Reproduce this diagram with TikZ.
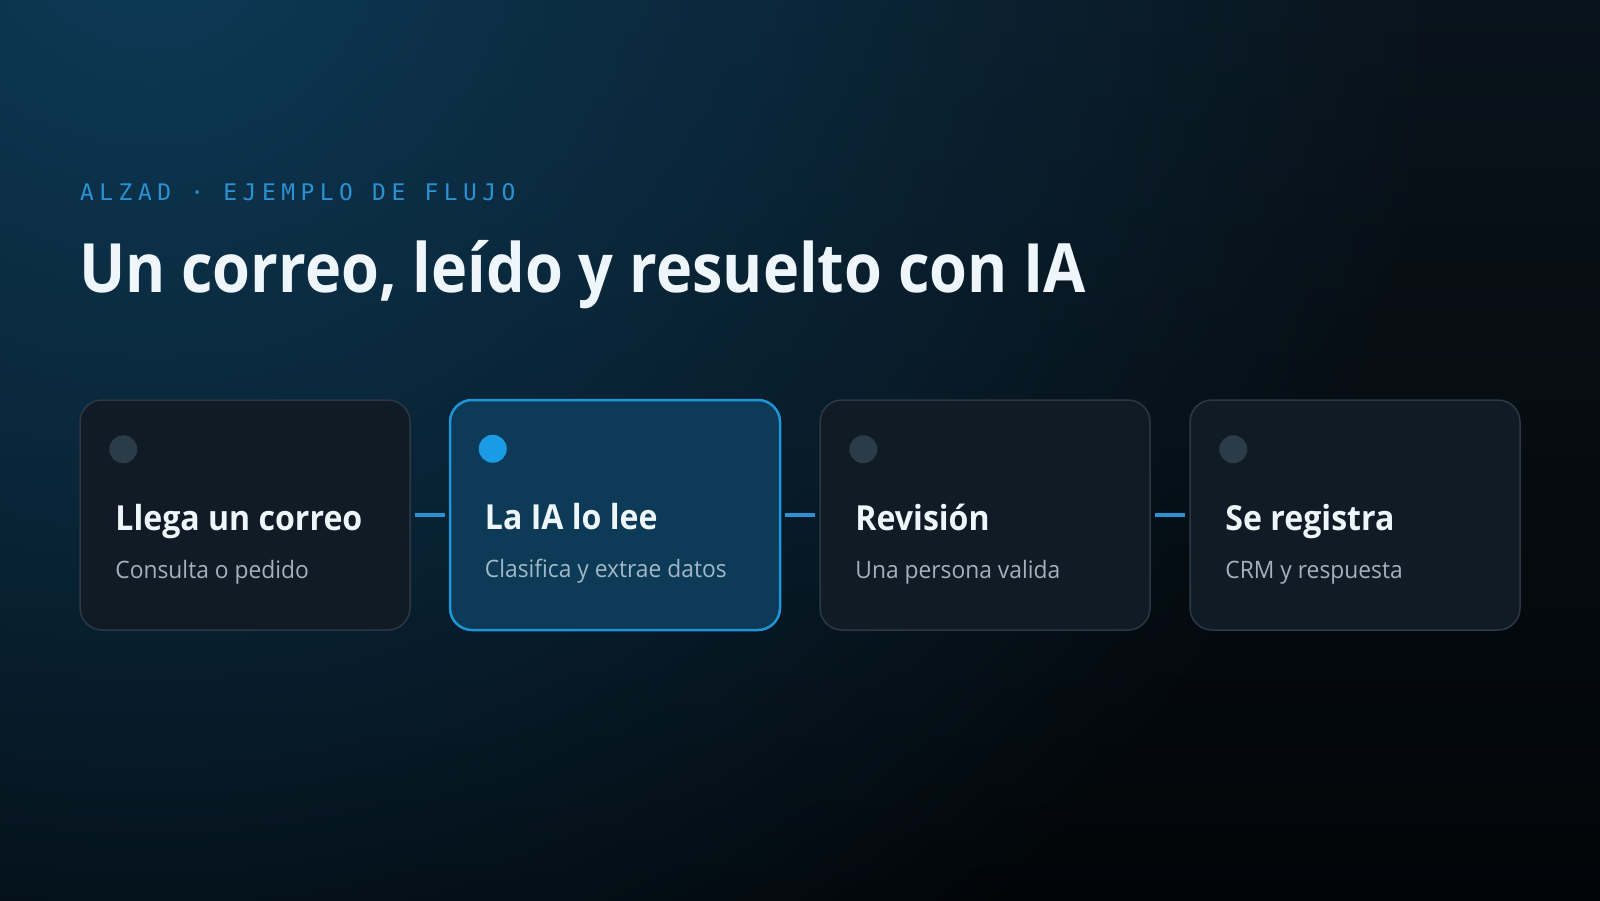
\documentclass[tikz,border=0pt]{standalone}
\usepackage{fontspec}
\setmainfont{Open Sans}
\newfontfamily\monofont[LetterSpace=24]{DejaVu Sans Mono}
\newfontfamily\titlefont[FakeStretch=0.9]{Open Sans}
\newfontfamily\cardtfont[FakeStretch=0.93]{Open Sans}
\newfontfamily\subfont[FakeStretch=0.95]{Open Sans}
\usetikzlibrary{fadings,calc}
\definecolor{bgtop}{HTML}{09131B}
\definecolor{bgbot}{HTML}{020508}
\definecolor{glowc}{HTML}{0D3A57}
\definecolor{cardfill}{HTML}{101B26}
\definecolor{cardline}{HTML}{2C3843}
\definecolor{actfill}{HTML}{0D3A56}
\definecolor{actline}{HTML}{1D95D6}
\definecolor{dotoff}{HTML}{2C3B48}
\definecolor{doton}{HTML}{1A9BE5}
\definecolor{titlec}{HTML}{EEF6FC}
\definecolor{subc}{HTML}{A3B1BC}
\definecolor{subact}{HTML}{A0B8C8}
\definecolor{accent}{HTML}{2C91D2}
\tikzfading[name=glowfade, inner color=transparent!0, outer color=transparent!100]
\tikzset{
  card/.style={draw=cardline, line width=1.5pt, fill=cardfill, rounded corners=22pt,
    minimum width=330pt, minimum height=230pt, inner sep=0pt},
  actcard/.style={card, draw=actline, line width=2.5pt, fill=actfill},
  dotoff/.style={circle, fill=dotoff, minimum size=28pt, inner sep=0pt},
  doton/.style={circle, fill=doton, minimum size=28pt, inner sep=0pt},
  ctitle/.style={anchor=base west, inner sep=0pt, text=titlec, font=\cardtfont\fontsize{34.5}{40}\selectfont\bfseries},
  csub/.style={anchor=base west, inner sep=0pt, text=subc, font=\subfont\fontsize{24}{28}\selectfont},
  conn/.style={draw=accent, line width=3.5pt, shorten >=4pt, shorten <=4pt}
}
\begin{document}
\begin{tikzpicture}[x=1pt,y=-1pt]
\useasboundingbox (0,0) rectangle (1600,900);
\begin{scope}
\clip (0,0) rectangle (1600,900);
\shade[top color=bgtop, bottom color=bgbot] (0,0) rectangle (1600,900);
\fill[glowc, path fading=glowfade] (150,-80) circle (1300);
\end{scope}

\node[anchor=base west, inner sep=0pt, text=accent, font=\monofont\fontsize{22.9}{26}\selectfont] (kicker) at (80,200) {ALZAD · EJEMPLO DE FLUJO};
\node[anchor=base west, inner sep=0pt, text=titlec, font=\titlefont\fontsize{68}{76}\selectfont\bfseries] (title) at (79,292) {Un correo, leído y resuelto con IA};

\node[card] (c1) at (245,515) {};
\node[actcard] (c2) at (615,515) {};
\node[card] (c3) at (985,515) {};
\node[card] (c4) at (1355,515) {};

\node[dotoff] (d1) at ($(c1.north west)+(44,50)$) {};
\node[doton] (d2) at ($(c2.north west)+(44,50)$) {};
\node[dotoff] (d3) at ($(c3.north west)+(44,50)$) {};
\node[dotoff] (d4) at ($(c4.north west)+(44,50)$) {};

\node[ctitle] (t1) at ($(c1.north west)+(36,131)$) {Llega un correo};
\node[ctitle] (t2) at ($(c2.north west)+(36,131)$) {La IA lo lee};
\node[ctitle] (t3) at ($(c3.north west)+(36,131)$) {Revisión};
\node[ctitle] (t4) at ($(c4.north west)+(36,131)$) {Se registra};

\node[csub] (s1) at ($(c1.north west)+(36,179)$) {Consulta o pedido};
\node[csub, text=subact] (s2) at ($(c2.north west)+(36,179)$) {Clasifica y extrae datos};
\node[csub] (s3) at ($(c3.north west)+(36,179)$) {Una persona valida};
\node[csub] (s4) at ($(c4.north west)+(36,179)$) {CRM y respuesta};

\draw[conn] (c1.east) -- (c2.west);
\draw[conn] (c2.east) -- (c3.west);
\draw[conn] (c3.east) -- (c4.west);
\end{tikzpicture}
\end{document}
